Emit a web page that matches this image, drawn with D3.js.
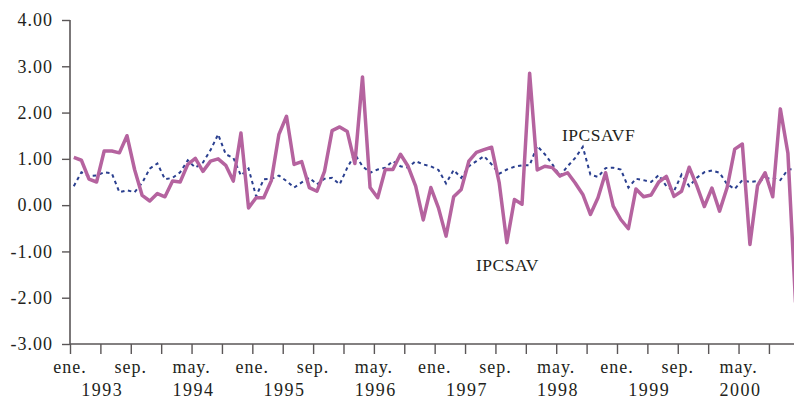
<!DOCTYPE html>
<html>
<head>
<meta charset="utf-8">
<script src="https://cdn.jsdelivr.net/npm/d3@7"></script>
<style>
  html, body { margin: 0; padding: 0; background: #fff; }
  svg { display: block; }
  text { font-family: "Liberation Serif", "Times New Roman", serif; fill: #231f20; }
</style>
</head>
<body>
<svg id="chart" width="794" height="402"></svg>
<script>
// Monthly inflation series, ene. 1993 – dic. 2000 (96 observations)
const startYear = 1993;

const ipcsav = [
  1.03, 0.97, 0.56, 0.50, 1.17, 1.17, 1.13, 1.50, 0.77, 0.21, 0.09, 0.25,
  0.18, 0.52, 0.50, 0.88, 1.01, 0.73, 0.95, 1.00, 0.86, 0.52, 1.56, -0.06,
  0.16, 0.16, 0.53, 1.53, 1.92, 0.88, 0.94, 0.38, 0.30, 0.73, 1.61, 1.69,
  1.59, 0.90, 2.77, 0.38, 0.16, 0.77, 0.77, 1.10, 0.84, 0.41, -0.32, 0.38,
  -0.06, -0.67, 0.18, 0.34, 0.95, 1.14, 1.20, 1.25, 0.48, -0.81, 0.12, 0.02,
  2.85, 0.76, 0.84, 0.81, 0.63, 0.70, 0.48, 0.23, -0.20, 0.16, 0.70, -0.02,
  -0.31, -0.51, 0.35, 0.18, 0.22, 0.50, 0.62, 0.19, 0.30, 0.82, 0.42, -0.03,
  0.37, -0.13, 0.38, 1.21, 1.32, -0.85, 0.42, 0.70, 0.18, 2.08, 1.12, -2.10
];

const ipcsavf = [
  0.41, 0.71, 0.63, 0.64, 0.71, 0.69, 0.28, 0.32, 0.28, 0.48, 0.79, 0.90,
  0.56, 0.59, 0.71, 0.97, 0.81, 0.92, 1.19, 1.53, 1.10, 1.02, 0.64, 0.79,
  0.19, 0.56, 0.57, 0.64, 0.52, 0.38, 0.49, 0.59, 0.45, 0.57, 0.59, 0.45,
  0.81, 1.10, 0.84, 0.70, 0.77, 0.81, 0.95, 0.84, 0.81, 0.95, 0.88, 0.84,
  0.76, 0.47, 0.76, 0.59, 0.84, 0.95, 1.06, 0.88, 0.68, 0.77, 0.83, 0.86,
  0.86, 1.28, 1.10, 0.88, 0.63, 0.84, 1.02, 1.26, 0.66, 0.61, 0.80, 0.81,
  0.77, 0.38, 0.57, 0.54, 0.50, 0.65, 0.41, 0.30, 0.66, 0.41, 0.59, 0.71,
  0.75, 0.70, 0.45, 0.35, 0.54, 0.50, 0.52, 0.57, 0.59, 0.54, 0.77, 0.78
];

const yTicks = [4, 3, 2, 1, 0, -1, -2, -3];
const monthLabels = ["ene.", "sep.", "may.", "ene.", "sep.", "may.",
                     "ene.", "sep.", "may.", "ene.", "sep.", "may."];
const yearLabels = ["1993", "1994", "1995", "1996", "1997", "1998", "1999", "2000"];
const seriesNames = ["IPCSAV", "IPCSAVF"];

const svg = d3.select("#chart");
const x0 = 70, x1 = 794, yTop = 20, yBot = 344;

// x in months elapsed since the start of ene. 1993; observations sit mid-month
const x = d3.scaleLinear().domain([0, 95.3]).range([x0, x1]);
const y = d3.scaleLinear().domain([-3, 4]).range([yBot, yTop]);

const axisColor = "#5a5657";

// Y axis (plain hyphen for negatives)
const yAxis = svg.append("g")
  .attr("transform", `translate(${x0},0)`)
  .call(d3.axisLeft(y).tickValues(yTicks).tickFormat(d => d.toFixed(2)).tickSize(8).tickPadding(9));
yAxis.select(".domain").attr("stroke", axisColor).attr("stroke-width", 1.6)
  .attr("d", `M0,${yTop}V${yBot}`);
yAxis.selectAll(".tick line").attr("stroke", axisColor).attr("stroke-width", 1.4);
yAxis.selectAll(".tick text")
  .style("font-size", "18px").style("letter-spacing", "1px")
  .attr("fill", "#231f20");

// X axis: a tick every four months, labels every eight
const tickMonths = d3.range(0, 96, 4);
const xAxis = svg.append("g")
  .attr("transform", `translate(0,${yBot})`)
  .call(d3.axisBottom(x).tickValues(tickMonths).tickSize(10).tickFormat(""));
xAxis.select(".domain").attr("stroke", axisColor).attr("stroke-width", 1.6)
  .attr("d", `M${x0},0H${x1}`);
xAxis.selectAll(".tick line").attr("stroke", axisColor).attr("stroke-width", 1.4);

svg.append("g").selectAll("text")
  .data(monthLabels)
  .join("text")
  .attr("x", (d, i) => x(i * 8))
  .attr("y", 373)
  .attr("text-anchor", "middle")
  .style("font-size", "18px").style("letter-spacing", "1px")
  .text(d => d);

svg.append("g").selectAll("text")
  .data(yearLabels)
  .join("text")
  .attr("x", (d, i) => x(i * 12 + 4.25))
  .attr("y", 396)
  .attr("text-anchor", "middle")
  .style("font-size", "18px").style("letter-spacing", "1.5px")
  .text(d => d);

// Series lines
const line = d3.line()
  .x((d, i) => x(i + 0.5))
  .y(d => y(d));

const plot = svg.append("g");
plot.append("path")
  .datum(ipcsavf)
  .attr("fill", "none")
  .attr("stroke", "#2a3f8f")
  .attr("stroke-width", 2)
  .attr("stroke-dasharray", "3.5,3.5")
  .attr("d", line);

plot.append("path")
  .datum(ipcsav)
  .attr("fill", "none")
  .attr("stroke", "#b5639f")
  .attr("stroke-width", 3.5)
  .attr("stroke-linejoin", "round")
  .attr("d", line);

// Series labels
svg.append("text")
  .attr("x", 476).attr("y", 271)
  .style("font-size", "17.5px").style("letter-spacing", "0.5px")
  .text(seriesNames[0]);
svg.append("text")
  .attr("x", 562).attr("y", 141)
  .style("font-size", "17.5px").style("letter-spacing", "0.5px")
  .text(seriesNames[1]);
</script>
</body>
</html>
